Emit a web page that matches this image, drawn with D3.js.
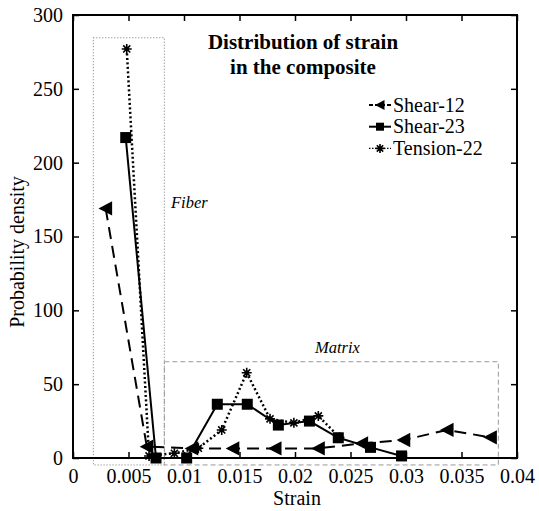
<!DOCTYPE html>
<html>
<head>
<meta charset="utf-8">
<script src="https://cdn.jsdelivr.net/npm/d3@7"></script>
<style>
  html, body { margin: 0; padding: 0; background: #fff; }
  svg text { font-family: "Liberation Serif", "Times New Roman", "DejaVu Serif", serif; }
</style>
</head>
<body>
<svg id="chart" width="539" height="511"></svg>
<script>
// ---- data ----
const shear12X = [0.00294, 0.00665, 0.0107, 0.0144, 0.0182, 0.0221, 0.0260, 0.0298, 0.0337, 0.0376];
const shear12Y = [169, 7.7, 6.5, 6.5, 6.5, 6.5, 9.9, 12.2, 19, 14];
const shear23X = [0.00475, 0.00748, 0.01024, 0.0130, 0.0157, 0.0185, 0.0213, 0.0239, 0.0268, 0.0296];
const shear23Y = [217, 0, 0, 36.4, 36.4, 22.3, 25, 13.7, 7.2, 1.4];
const tensionX = [0.00484, 0.00685, 0.00913, 0.01129, 0.0134, 0.01565, 0.01775, 0.0199, 0.0221, 0.0240];
const tensionY = [277, 1.4, 3.2, 6.6, 19, 57.7, 26.5, 23.8, 28.5, 14];
const seriesNames = ["Shear-12", "Shear-23", "Tension-22"];
const xTicks = [0, 0.005, 0.01, 0.015, 0.02, 0.025, 0.03, 0.035, 0.04];
const xTickLabels = ["0", "0.005", "0.01", "0.015", "0.02", "0.025", "0.03", "0.035", "0.04"];
const yTicks = [0, 50, 100, 150, 200, 250, 300];
const fiberBox = [0.00183, 0.00823, -4.7, 284.6];   // x0, x1, y0, y1 (data units)
const matrixBox = [0.00823, 0.03832, -4.7, 65.2];
const titleLines = ["Distribution of strain", "in the composite"];

// ---- layout ----
const FONT = "'Liberation Serif', 'Times New Roman', 'DejaVu Serif', serif";
const svg = d3.select("#chart");
const L = 73, R = 517, T = 15, B = 458;
const x = d3.scaleLinear().domain([0, 0.04]).range([L, R]);
const y = d3.scaleLinear().domain([0, 300]).range([B, T]);

// region boxes
function box(b, dash, color) {
  svg.append("rect")
    .attr("x", x(b[0])).attr("y", y(b[3]))
    .attr("width", x(b[1]) - x(b[0])).attr("height", y(b[2]) - y(b[3]))
    .attr("fill", "none").attr("stroke", color).attr("stroke-width", 1)
    .attr("stroke-dasharray", dash);
}
box(fiberBox, "1,2", "#777");
box(matrixBox, "5,3", "#999");

// axes (all four sides, inward ticks)
const tickLen = 6;
svg.append("g").attr("transform", `translate(0,${B})`)
  .call(d3.axisBottom(x).tickValues(xTicks).tickSize(-tickLen).tickFormat((d, i) => xTickLabels[i]).tickPadding(11))
  .call(g => g.select(".domain").remove());
svg.append("g").attr("transform", `translate(0,${T})`)
  .call(d3.axisTop(x).tickValues(xTicks).tickSize(-tickLen).tickFormat(""))
  .call(g => g.select(".domain").remove());
svg.append("g").attr("transform", `translate(${L},0)`)
  .call(d3.axisLeft(y).tickValues(yTicks).tickSize(-tickLen).tickPadding(10))
  .call(g => g.select(".domain").remove());
svg.append("g").attr("transform", `translate(${R},0)`)
  .call(d3.axisRight(y).tickValues(yTicks).tickSize(-tickLen).tickFormat(""))
  .call(g => g.select(".domain").remove());
svg.selectAll("g").attr("font-family", null).attr("font-size", null);
svg.selectAll(".tick line").attr("stroke", "#000").attr("stroke-width", 1.5);
svg.selectAll(".tick text").attr("font-size", 20).attr("fill", "#000");

svg.append("rect").attr("x", L).attr("y", T).attr("width", R - L).attr("height", B - T)
  .attr("fill", "none").attr("stroke", "#000").attr("stroke-width", 2);

// axis titles
svg.append("text").attr("x", 297).attr("y", 505).attr("text-anchor", "middle")
  .attr("font-size", 20).text("Strain");
svg.append("text").attr("transform", "translate(24,252) rotate(-90)").attr("text-anchor", "middle")
  .attr("font-size", 20).text("Probability density");

// markers
function triPath(s) { return `M${-s * 0.55},0L${s * 0.5},${-s * 0.55}L${s * 0.5},${s * 0.55}Z`; }
function drawMarker(g, type, cx, cy, s) {
  if (type === 0) {
    g.append("path").attr("d", triPath(s)).attr("transform", `translate(${cx},${cy})`).attr("fill", "#000");
  } else if (type === 1) {
    g.append("rect").attr("x", cx - s / 2).attr("y", cy - s / 2).attr("width", s).attr("height", s).attr("fill", "#000");
  } else {
    const r = s / 2;
    let d = "";
    for (let k = 0; k < 4; k++) {
      const a = k * Math.PI / 4;
      d += `M${cx - r * Math.cos(a)},${cy - r * Math.sin(a)}L${cx + r * Math.cos(a)},${cy + r * Math.sin(a)}`;
    }
    g.append("path").attr("d", d).attr("stroke", "#000").attr("stroke-width", 1.6).attr("fill", "none");
    g.append("circle").attr("cx", cx).attr("cy", cy).attr("r", s * 0.22).attr("fill", "#000");
  }
}

const series = [
  { xs: shear12X, ys: shear12Y, dash: "12,7", width: 2, size: 13 },
  { xs: shear23X, ys: shear23Y, dash: null, width: 2, size: 11 },
  { xs: tensionX, ys: tensionY, dash: "2,2.5", width: 2.5, size: 10 }
];
const line = d3.line().x(d => x(d[0])).y(d => y(d[1]));
series.forEach((s, i) => {
  const pts = s.xs.map((v, j) => [v, s.ys[j]]);
  const g = svg.append("g");
  g.append("path").attr("d", line(pts)).attr("fill", "none").attr("stroke", "#000")
    .attr("stroke-width", s.width).attr("stroke-dasharray", s.dash);
  pts.forEach(p => drawMarker(g, i, x(p[0]), y(p[1]), s.size));
});

// title
titleLines.forEach((t, i) => {
  svg.append("text").attr("x", 303).attr("y", 49 + i * 24.5).attr("text-anchor", "middle")
    .attr("font-size", 21).attr("font-weight", "bold").text(t);
});

// region labels
svg.append("text").attr("x", 171).attr("y", 208).attr("font-size", 16.5).attr("font-style", "italic").text("Fiber");
svg.append("text").attr("x", 315).attr("y", 352.5).attr("font-size", 16.5).attr("font-style", "italic").text("Matrix");

// legend
const legDash = ["4,2", null, "1.5,1.5"];
const legW = [2, 2, 1.2];
seriesNames.forEach((n, i) => {
  const cy = 105 + i * 21.7;
  const g = svg.append("g");
  g.append("line").attr("x1", 369).attr("x2", 391).attr("y1", cy).attr("y2", cy)
    .attr("stroke", "#000").attr("stroke-width", legW[i]).attr("stroke-dasharray", legDash[i]);
  drawMarker(g, i, 380, cy, [9, 8, 9][i]);
  g.append("text").attr("x", 393).attr("y", cy + 6.5).attr("font-size", 20).text(n);
});

svg.selectAll("text").attr("font-family", FONT);
</script>
</body>
</html>
